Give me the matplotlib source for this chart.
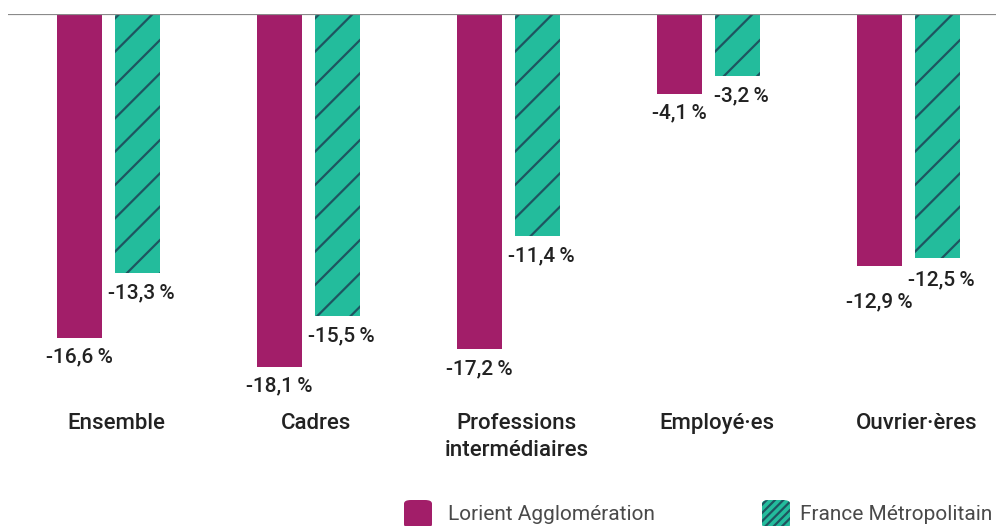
import matplotlib
matplotlib.use("Agg")
import matplotlib.pyplot as plt
from matplotlib.patches import FancyBboxPatch
import numpy as np

categories = ["Ensemble", "Cadres", "Professions\nintermédiaires", "Employé·es", "Ouvrier·ères"]
lorient = [-16.6, -18.1, -17.2, -4.1, -12.9]
france = [-13.3, -15.5, -11.4, -3.2, -12.5]
series_names = ["Lorient Agglomération", "France Métropolitain"]

MAGENTA = "#A21E69"
GREEN = "#23BC9C"
HATCH = "#1E5560"
TEXT = "#222222"

plt.rcParams["font.family"] = ["Roboto", "DejaVu Sans"]
plt.rcParams["hatch.linewidth"] = 1.6

W, H = 996, 526
fig = plt.figure(figsize=(W / 100, H / 100), dpi=100)
# axes spans from the zero line down to the bottom edge
ax = fig.add_axes([8 / W, 0, 1 - 8 / W, 1 - 14 / H])
px_per_unit = 19.5
ax.set_ylim(-(H - 14) / px_per_unit, 0)
xmin = -100.5 / 200
ax.set_xlim(xmin, xmin + (W - 8) / 200)

x = np.arange(len(categories))
bw = 0.225
off = 0.145

ax.bar(x - off, lorient, bw, color=MAGENTA, linewidth=0)
ax.bar(x + off, france, bw, color=GREEN, edgecolor=HATCH, hatch="/", linewidth=0)

ax.axhline(0, color="#8a8a8a", linewidth=1.6, zorder=5)


def fmt(v):
    return f"{v:.1f}\u2009%".replace(".", ",")


# extra downward nudge (points) so close labels don't collide
nudge_lorient = [0, 0, 0, 0, 12]
nudge_france = [0, 0, 0, 0, 2]

for xi, v, n in zip(x - off, lorient, nudge_lorient):
    ax.annotate(fmt(v), (xi, v), xytext=(0, -7 - n),
                textcoords="offset points", ha="center", va="top",
                fontsize=15, color=TEXT, fontweight=500)
for xi, v, n in zip(x + off, france, nudge_france):
    ax.annotate(fmt(v), (xi, v), xytext=(3, -7 - n),
                textcoords="offset points", ha="center", va="top",
                fontsize=15, color=TEXT, fontweight=500)

for xi, c in zip(x, categories):
    ax.text(xi + 0.04, -(413 - 14) / px_per_unit, c, ha="center", va="top",
            fontsize=16, color=TEXT, linespacing=1.35, fontweight=500)

ax.axis("off")

# legend with rounded swatches
sw = 28
for (left, gap, name, fc, hatch) in [(404, 16, series_names[0], MAGENTA, None),
                                     (762, 10, series_names[1], GREEN, "////")]:
    box = FancyBboxPatch((left / W, (H - 528) / H), sw / W, sw / H,
                         boxstyle="round,pad=0,rounding_size=0.007",
                         transform=fig.transFigure, facecolor=fc,
                         edgecolor=HATCH if hatch else fc, hatch=hatch,
                         linewidth=0, figure=fig)
    fig.patches.append(box)
    fig.text((left + sw + gap) / W, (H - 514) / H, name, fontsize=15,
             color="#4a4a4a", va="center", ha="left")

fig.savefig("out.png", dpi=100)
